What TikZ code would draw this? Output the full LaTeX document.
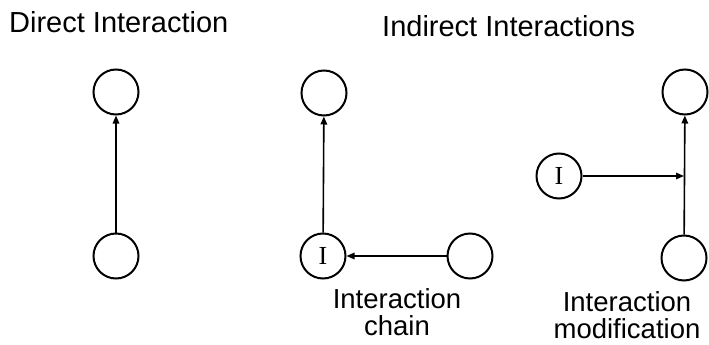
\documentclass[tikz,border=0pt]{standalone}
\usepackage{fontspec}
\setmainfont{Liberation Sans}
\newfontfamily\serifI{Liberation Serif}
\usetikzlibrary{arrows.meta}
\tikzset{
  circ/.style={circle, draw, line width=2pt, minimum size=45pt, inner sep=0pt, font=\serifI\fontsize{26}{26}\selectfont},
  arr/.style={line width=1.6pt, -{Triangle[length=8pt,width=6.5pt]}},
  lbl/.style={inner sep=0pt, font=\fontsize{29}{25}\selectfont},
  sublbl/.style={inner sep=0pt, font=\fontsize{27.5}{27}\selectfont},
}
\begin{document}
\begin{tikzpicture}[x=1pt,y=-1pt]
\useasboundingbox (0,0) rectangle (709,345);
% headings
\node[lbl, anchor=base west] (h1) at (9,33) {Direct Interaction};
\node[lbl, anchor=base west] (h2) at (382,37) {Indirect Interactions};
% direct
\node[circ] (dt) at (116,92) {};
\node[circ] (db) at (116,256) {};
\draw[arr] (db) -- (dt);
% chain
\node[circ] (ct) at (324,93) {};
\node[circ] (ci) at (323,256) {I};
\node[circ] (cr) at (470,256) {};
\draw[arr] (ci) -- (ct);
\draw[arr] (cr) -- (ci);
\node[sublbl, anchor=base, align=center] (lc) at (397,335) {Interaction\\chain};
% modification
\node[circ] (mt) at (685,92) {};
\node[circ] (mb) at (684,258) {};
\node[circ] (mi) at (559,176) {I};
\coordinate (mj) at (684,176);
\draw[arr] (mb) -- (mt);
\draw[arr] (mi) -- (mj);
\node[sublbl, anchor=base, align=center] (lm) at (627,338) {Interaction\\modification};
\end{tikzpicture}
\end{document}
